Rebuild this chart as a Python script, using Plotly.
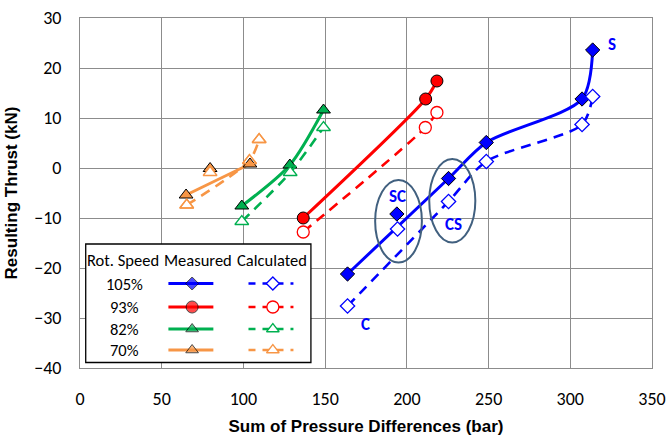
import plotly.graph_objects as go

# ---------------- data ----------------
# 105 % rotational speed (blue)
b_meas_x = [163.7, 225.5, 248.6, 307.2, 313.7]
b_meas_y = [-21.2, -2.1, 5.1, 13.8, 23.6]
b_calc_x = [163.7, 225.5, 248.6, 307.2, 313.7]
b_calc_y = [-27.6, -6.7, 1.3, 8.7, 14.3]
b_sc_meas_x = [193.9]
b_sc_meas_y = [-9.2]
b_sc_calc_x = [194.3]
b_sc_calc_y = [-12.2]

# 93 % (red)
r_meas_x = [136.6, 211.5, 218.4]
r_meas_y = [-10.0, 13.8, 17.4]
r_calc_x = [136.6, 211.3, 218.4]
r_calc_y = [-12.8, 8.1, 11.1]

# 82 % (green)
g_meas_x = [99.0, 128.4, 149.0]
g_meas_y = [-7.6, 0.6, 11.6]
g_calc_x = [99.0, 128.6, 149.0]
g_calc_y = [-10.7, -0.9, 8.1]

# 70 % (orange)
o_meas_x = [64.9, 104.0]
o_meas_y = [-5.4, 0.8]
o_calc_x = [65.3, 103.7, 109.6]
o_calc_y = [-7.4, 1.5, 5.7]
o_extra_meas_x = [79.6]
o_extra_meas_y = [-0.1]
o_extra_calc_x = [79.6]
o_extra_calc_y = [-0.9]

speeds = ["105%", "93%", "82%", "70%"]
x_ticks = [0, 50, 100, 150, 200, 250, 300, 350]
y_ticks = [-40, -30, -20, -10, 0, 10, 20, 30]

BLUE = "#0000FF"
RED = "#FF0000"
GREEN = "#00B050"
ORANGE = "#F79646"
DASH = "10px,7px"

fig = go.Figure()


def add_meas(x, y, color, symbol, size, line=True):
    fig.add_trace(go.Scatter(
        x=x, y=y, mode="lines+markers" if line else "markers",
        line=dict(color=color, width=3, shape="spline", smoothing=0.8),
        marker=dict(symbol=symbol, size=size, color=color,
                    line=dict(color="black", width=1)),
        showlegend=False, hoverinfo="skip"))


def add_calc(x, y, color, symbol, size, line=True):
    fig.add_trace(go.Scatter(
        x=x, y=y, mode="lines+markers" if line else "markers",
        line=dict(color=color, width=2.6, dash=DASH, shape="spline", smoothing=0.8),
        marker=dict(symbol=symbol, size=size, color="white",
                    line=dict(color=color, width=1.3)),
        showlegend=False, hoverinfo="skip"))


# orange
add_calc(o_calc_x, o_calc_y, ORANGE, "triangle-up", 12)
add_meas(o_meas_x, o_meas_y, ORANGE, "triangle-up", 12)
add_meas(o_extra_meas_x, o_extra_meas_y, ORANGE, "triangle-up", 12, line=False)
add_calc(o_extra_calc_x, o_extra_calc_y, ORANGE, "triangle-up", 12, line=False)
# calculated orange markers drawn again on top (open markers overlay)
fig.add_trace(go.Scatter(x=o_calc_x, y=o_calc_y, mode="markers",
                         marker=dict(symbol="triangle-up-open", size=12,
                                     color=ORANGE, line=dict(width=1.3)),
                         showlegend=False, hoverinfo="skip"))

# green
add_meas(g_meas_x, g_meas_y, GREEN, "triangle-up", 12)
add_calc(g_calc_x, g_calc_y, GREEN, "triangle-up", 12)

# red
add_meas(r_meas_x, r_meas_y, RED, "circle", 12)
add_calc(r_calc_x, r_calc_y, RED, "circle", 12)

# blue
add_meas(b_meas_x, b_meas_y, BLUE, "diamond", 11)
add_calc(b_calc_x, b_calc_y, BLUE, "diamond", 11)
add_meas(b_sc_meas_x, b_sc_meas_y, BLUE, "diamond", 11, line=False)
add_calc(b_sc_calc_x, b_sc_calc_y, BLUE, "diamond", 11, line=False)

# ---------------- ellipses & labels ----------------
ELL = "#41607F"
fig.add_shape(type="circle", xref="x", yref="y", x0=180.6, x1=209.2, y0=-18.9, y1=-2.4,
              line=dict(color=ELL, width=2))
fig.add_shape(type="circle", xref="x", yref="y", x0=213.7, x1=241.9, y0=-14.9, y1=1.8,
              line=dict(color=ELL, width=2))

FONT = "Carlito, Liberation Sans Narrow, Liberation Sans"
lab_font = dict(family=FONT, size=17, color=BLUE)
for txt, xx, yy in [("S", 325.8, 24.8), ("SC", 194.4, -5.6), ("CS", 228.4, -11.2), ("C", 174.5, -31.2)]:
    fig.add_annotation(x=xx, y=yy, text=f"<b>{txt}</b>", showarrow=False, font=lab_font)

# ---------------- custom legend table ----------------
fig.add_shape(type="rect", xref="x", yref="y", x0=3.5, x1=141.3, y0=-38.9, y1=-15.2,
              line=dict(color="black", width=1.3), fillcolor="white", layer="between")
leg_font = dict(family=FONT, size=16.5, color="black")
fig.add_annotation(x=26.5, y=-18.4, text="Rot. Speed", showarrow=False, font=leg_font)
fig.add_annotation(x=72.5, y=-18.4, text="Measured", showarrow=False, font=leg_font)
fig.add_annotation(x=117.6, y=-18.4, text="Calculated", showarrow=False, font=leg_font)

row_y = [-23.1, -27.8, -32.2, -36.4]
row_cols = [BLUE, RED, GREEN, ORANGE]
row_sym = ["diamond", "circle", "triangle-up", "triangle-up"]
row_size = [10, 12, 11, 11]
for lab, ry, c, s, sz in zip(speeds, row_y, row_cols, row_sym, row_size):
    fig.add_annotation(x=27.1, y=ry, text=lab, showarrow=False, font=leg_font)
    fig.add_trace(go.Scatter(x=[54.1, 68.6, 81.6], y=[ry, ry, ry], mode="lines+markers",
                             line=dict(color=c, width=3),
                             marker=dict(symbol=s, size=[0, sz, 0], color=c,
                                         line=dict(color="black", width=[0, 1, 0])),
                             showlegend=False, hoverinfo="skip"))
    fig.add_trace(go.Scatter(x=[103.1, 130.6], y=[ry, ry], mode="lines",
                             line=dict(color=c, width=2.6, dash="7px,7px"),
                             showlegend=False, hoverinfo="skip"))
    fig.add_trace(go.Scatter(x=[118.0], y=[ry], mode="markers",
                             marker=dict(symbol=s, size=sz, color="white",
                                         line=dict(color=c, width=1.3)),
                             showlegend=False, hoverinfo="skip"))

tick_font = dict(family=FONT, size=18, color="black")
title_font = dict(family="Liberation Sans", size=17, color="black")

fig.update_xaxes(range=[0, 350], tickvals=x_ticks, showgrid=True, gridcolor="#8C8C8C",
                 gridwidth=1, showline=True, linecolor="#8C8C8C", mirror=True,
                 zeroline=False, ticks="", tickfont=tick_font, ticklabelstandoff=14,
                 automargin=False,
                 title=dict(text="<b>Sum of Pressure Differences (bar)</b>", font=title_font,
                            standoff=12))
fig.update_yaxes(range=[-40, 30], tickvals=y_ticks, showgrid=True, gridcolor="#8C8C8C",
                 gridwidth=1, showline=True, linecolor="#8C8C8C", mirror=True,
                 zeroline=False, ticks="", tickfont=tick_font, ticklabelstandoff=14,
                 automargin=False,
                 title=dict(text="<b>Resulting Thrust (kN)</b>", font=title_font, standoff=12))

fig.update_layout(width=668, height=436, margin=dict(l=80, r=16, t=18, b=68),
                  plot_bgcolor="white", paper_bgcolor="white")

fig.write_html("out.html")
